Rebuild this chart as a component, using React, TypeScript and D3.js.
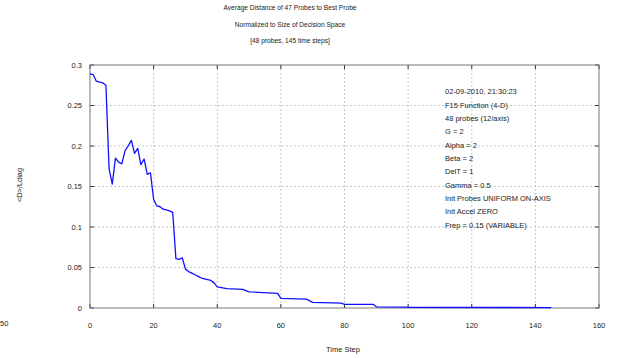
import React from "react";
import * as d3 from "d3";

const timeSteps = [0, 1, 2, 3, 4, 5, 6, 7, 8, 9, 10, 11, 12, 13, 14, 15, 16, 17, 18, 19, 20, 21, 22, 23, 24, 25, 26, 27, 28, 29, 30, 31, 32, 33, 34, 35, 36, 37, 38, 39, 40, 43, 48, 50, 59, 60, 68, 70, 79, 80, 89, 90, 99, 100, 145];
const avgDistance = [0.289, 0.288, 0.280, 0.279, 0.278, 0.275, 0.172, 0.153, 0.185, 0.180, 0.178, 0.194, 0.200, 0.207, 0.191, 0.197, 0.177, 0.184, 0.165, 0.167, 0.134, 0.126, 0.125, 0.122, 0.121, 0.120, 0.118, 0.061, 0.060, 0.062, 0.048, 0.045, 0.043, 0.041, 0.039, 0.037, 0.036, 0.035, 0.034, 0.031, 0.026, 0.024, 0.023, 0.020, 0.018, 0.012, 0.011, 0.007, 0.006, 0.0045, 0.0045, 0.0015, 0.001, 0.0008, 0.0005];

const xTicks = [0, 20, 40, 60, 80, 100, 120, 140, 160];
const yTicks = [0, 0.05, 0.1, 0.15, 0.2, 0.25, 0.3];

const titleLines = [
  "Average Distance of 47 Probes to Best Probe",
  "Normalized to Size of Decision Space",
  "[48 probes, 145 time steps]",
];
const infoLines = [
  "02-09-2010, 21:30:23",
  "F15 Function (4-D)",
  "48 probes (12/axis)",
  "G = 2",
  "Alpha = 2",
  "Beta = 2",
  "DelT = 1",
  "Gamma = 0.5",
  "Init Probes UNIFORM ON-AXIS",
  "Init Accel ZERO",
  "Frep = 0.15 (VARIABLE)",
];
const xLabel = "Time Step";
const yLabel = "<D>/Ldiag";

export default function App() {
  const W = 620, H = 358;
  const left = 90, right = 599, top = 65, bottom = 308;
  const x = d3.scaleLinear().domain([0, 160]).range([left, right]);
  const y = d3.scaleLinear().domain([0, 0.3]).range([bottom, top]);
  const line = d3.line<number>().x((_, i) => x(timeSteps[i])).y((d) => y(d));
  const font = "'Liberation Sans', Arial, sans-serif";
  const txt = "#222";
  return (
    <svg width={W} height={H} style={{ position: "absolute", left: 0, top: 0, background: "#fff" }} fontFamily={font}>
      <rect x={0} y={0} width={W} height={H} fill="#fff" />
      {titleLines.map((t, i) => (
        <text key={t} x={290} y={10 + i * 16.7} textAnchor="middle" fontSize={6.6} fill={txt}>{t}</text>
      ))}
      {xTicks.slice(1, -1).map((t) => (
        <line key={"gx" + t} x1={x(t)} x2={x(t)} y1={top} y2={bottom} stroke="#c8c8c8" strokeWidth={1} strokeDasharray="2,2" />
      ))}
      {yTicks.slice(1, -1).map((t) => (
        <line key={"gy" + t} x1={left} x2={right} y1={y(t)} y2={y(t)} stroke="#c8c8c8" strokeWidth={1} strokeDasharray="2,2" />
      ))}
      {xTicks.map((t) => (
        <g key={"tx" + t}>
          <line x1={x(t)} x2={x(t)} y1={bottom} y2={bottom - 4} stroke="#333" />
          <line x1={x(t)} x2={x(t)} y1={top} y2={top + 4} stroke="#333" />
          <text x={x(t)} y={328} textAnchor="middle" fontSize={7.5} fill={txt}>{t}</text>
        </g>
      ))}
      {yTicks.map((t) => (
        <g key={"ty" + t}>
          <line x1={left} x2={left + 4} y1={y(t)} y2={y(t)} stroke="#333" />
          <line x1={right} x2={right - 4} y1={y(t)} y2={y(t)} stroke="#333" />
          <text x={82} y={y(t) + 2.8} textAnchor="end" fontSize={7.5} fill={txt}>{t}</text>
        </g>
      ))}
      <rect x={left} y={top} width={right - left} height={bottom - top} fill="none" stroke="#777" strokeWidth={1} />
      <path d={line(avgDistance) || ""} fill="none" stroke="#1010ff" strokeWidth={1.3} strokeLinejoin="round" />
      {infoLines.map((t, i) => (
        <text key={t} x={445} y={94.3 + i * 13.35} fontSize={7.5} fill={txt}>{t}</text>
      ))}
      <text x={343} y={352} textAnchor="middle" fontSize={7.5} fill={txt}>{xLabel}</text>
      <text transform="translate(22,185) rotate(-90)" textAnchor="middle" fontSize={7.4} fill={txt}>{yLabel}</text>
      <text x={0} y={326} textAnchor="start" fontSize={7.5} fill={txt}>50</text>
    </svg>
  );
}
